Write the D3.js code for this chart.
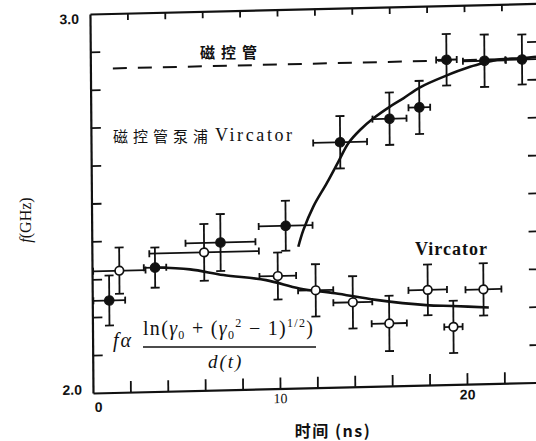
<!DOCTYPE html>
<html><head><meta charset="utf-8">
<script src="https://cdn.jsdelivr.net/npm/d3@7"></script>
<style>body{margin:0;background:#fff}svg{display:block}</style>
</head><body>
<svg id="chart" width="536" height="441"></svg>
<script>
// ---- data ----
// magnetron-pumped vircator (filled circles)
const pumpedT    = [0.91, 3.37, 6.88, 10.37, 13.32, 15.97, 17.57, 19.04, 21.07, 23.08];
const pumpedF    = [2.243, 2.327, 2.389, 2.429, 2.646, 2.705, 2.733, 2.857, 2.852, 2.853];
const pumpedTErr = [0.85, 0.6, 1.87, 1.44, 1.44, 0.91, 0.58, 0.55, 1.15, 0.9];
const pumpedFErr = [0.066, 0.053, 0.075, 0.066, 0.069, 0.069, 0.07, 0.068, 0.069, 0.066];
// plain vircator (open circles)
const vircT    = [1.46, 6.0, 9.93, 11.95, 13.93, 15.87, 17.94, 19.3, 20.92];
const vircF    = [2.321, 2.364, 2.297, 2.257, 2.223, 2.165, 2.251, 2.152, 2.249];
const vircTErr = [1.4, 2.93, 0.98, 0.94, 1.04, 0.94, 1.03, 0.49, 0.96];
const vircFErr = [0.061, 0.075, 0.062, 0.069, 0.069, 0.073, 0.067, 0.069, 0.069];
// theory curves
const theoryVircT = [3.37, 5.24, 7.02, 9.3, 11.08, 12.98, 15.17, 17.85, 19.27, 21.2];
const theoryVircF = [2.327, 2.320, 2.303, 2.287, 2.263, 2.248, 2.228, 2.211, 2.207, 2.201];
const theoryPumpT = [11.04, 11.32, 11.86, 12.59, 13.22, 13.76, 14.39, 15.11, 16.0, 16.72, 17.62, 18.96, 20.3, 21.1, 21.91, 22.98, 23.83];
const theoryPumpF = [2.373, 2.417, 2.478, 2.539, 2.595, 2.643, 2.677, 2.707, 2.737, 2.758, 2.786, 2.814, 2.837, 2.847, 2.855, 2.856, 2.859];
// magnetron level (dashed)
const magnetronLevel = 2.855;
const magnetronSpan = [1.2, 24];
// ticks
const xTickValues = [0, 2, 4, 6, 8, 10, 12, 14, 16, 18, 20, 22];
const xTickLabels = [0, 10, 20];
const yTickValues = [2.0, 2.1, 2.2, 2.3, 2.4, 2.5, 2.6, 2.7, 2.8, 2.9, 3.0];
const yTickLabels = [2.0, 3.0];
const xTitle = "时间 (ns)";
const labelMagnetron = "磁控管";
const labelPumpedCJK = "磁控管泵浦";
const labelPumpedLat = "Vircator";
const labelVirc = "Vircator";

// ---- drawing ----
const svg = d3.select("#chart");
const x = d3.scaleLinear().domain([0, 24]).range([93, 93 + 24 * 18.7]);
const y = d3.scaleLinear().domain([2.0, 3.0]).range([393, 14]);

// slight scan skew of the original figure
const a = 0.008, b = -0.0237;
const g = svg.append("g")
  .attr("transform", `matrix(1,${b},${a},1,${-a * 393},${-b * 93})`);

const ink = "#111";

// axes
const fmtX = d => xTickLabels.includes(d) ? String(d) : "";
const axB = g.append("g").attr("transform", `translate(0,${y(2.0)})`)
  .call(d3.axisBottom(x).tickValues(xTickValues).tickSize(-11).tickSizeOuter(0).tickPadding(9).tickFormat(fmtX));
axB.selectAll(".tick").filter(d => d === 0).select("line").remove();
axB.selectAll("text").attr("font-family", "Liberation Sans, Arial, sans-serif").attr("font-size", 14)
  .attr("font-weight", "bold").attr("fill", ink);
axB.selectAll(".tick").filter(d => d === 0).select("text").attr("dx", 5);
axB.selectAll(".tick").filter(d => d === 10).select("text")
  .attr("font-weight", "normal").attr("font-family", "Liberation Serif, serif").attr("dy", "0.4em");
axB.selectAll(".tick").filter(d => d === 20).select("text").attr("dy", "0.45em");

const axT = g.append("g").attr("transform", `translate(0,${y(3.0)})`)
  .call(d3.axisTop(x).tickValues(xTickValues.filter(d => d > 0)).tickSize(-7).tickSizeOuter(0).tickFormat(""));

const fmtY = d => yTickLabels.some(v => Math.abs(v - d) < 1e-9) ? d.toFixed(1) : "";
const axL = g.append("g").attr("transform", `translate(${x(0)},0)`)
  .call(d3.axisLeft(y).tickValues(yTickValues).tickSize(-10).tickSizeOuter(0).tickPadding(11).tickFormat(fmtY));
axL.selectAll(".tick").filter(d => Math.abs(d - 2) < 1e-9 || Math.abs(d - 3) < 1e-9).select("line").remove();
axL.selectAll("text").attr("font-family", "Liberation Sans, Arial, sans-serif").attr("font-size", 14)
  .attr("font-weight", "bold").attr("fill", ink);
axL.selectAll(".tick").filter(d => Math.abs(d - 3) < 1e-9).select("text").attr("dy", "0.65em");
axL.selectAll(".tick").filter(d => Math.abs(d - 2) < 1e-9).select("text").attr("dy", "0.05em");

const axR = g.append("g").attr("transform", `translate(${x(24)},0)`)
  .call(d3.axisRight(y).tickValues(yTickValues.filter(d => d > 2.05 && d < 2.95)).tickSize(-12).tickSizeOuter(0).tickFormat(""));

[axB, axT, axL, axR].forEach(ax => {
  ax.select(".domain").attr("stroke", ink).attr("stroke-width", 2.2);
  ax.selectAll(".tick line").attr("stroke", ink).attr("stroke-width", 1.8);
});

// magnetron dashed level
g.append("line")
  .attr("x1", x(magnetronSpan[0])).attr("x2", x(magnetronSpan[1]))
  .attr("y1", y(magnetronLevel)).attr("y2", y(magnetronLevel))
  .attr("stroke", ink).attr("stroke-width", 2).attr("stroke-dasharray", "14,11");

// theory curves
const line = d3.line().x(d => x(d[0])).y(d => y(d[1])).curve(d3.curveCatmullRom.alpha(0.5));
g.append("path").attr("d", line(d3.zip(theoryVircT, theoryVircF)))
  .attr("fill", "none").attr("stroke", ink).attr("stroke-width", 2.6);
g.append("path").attr("d", line(d3.zip(theoryPumpT, theoryPumpF)))
  .attr("fill", "none").attr("stroke", ink).attr("stroke-width", 2.6);

// error bars + markers
function series(T, F, TE, FE, filled) {
  const data = T.map((t, i) => ({t, f: F[i], te: TE[i], fe: FE[i]}));
  const s = g.append("g").attr("stroke", ink).attr("stroke-width", 1.8);
  const e = s.selectAll("g").data(data).join("g");
  e.append("line").attr("x1", d => x(d.t)).attr("x2", d => x(d.t))
    .attr("y1", d => y(d.f - d.fe)).attr("y2", d => y(d.f + d.fe));
  e.append("line").attr("x1", d => x(d.t) - 4.5).attr("x2", d => x(d.t) + 4.5)
    .attr("y1", d => y(d.f - d.fe)).attr("y2", d => y(d.f - d.fe));
  e.append("line").attr("x1", d => x(d.t) - 4.5).attr("x2", d => x(d.t) + 4.5)
    .attr("y1", d => y(d.f + d.fe)).attr("y2", d => y(d.f + d.fe));
  e.append("line").attr("x1", d => x(Math.max(0, d.t - d.te))).attr("x2", d => x(d.t + d.te))
    .attr("y1", d => y(d.f)).attr("y2", d => y(d.f));
  e.append("line").attr("x1", d => x(d.t - d.te)).attr("x2", d => x(d.t - d.te))
    .attr("y1", d => y(d.f) - 3.5).attr("y2", d => y(d.f) + 3.5)
    .attr("display", d => d.t - d.te < 0.05 ? "none" : null);
  e.append("line").attr("x1", d => x(d.t + d.te)).attr("x2", d => x(d.t + d.te))
    .attr("y1", d => y(d.f) - 3.5).attr("y2", d => y(d.f) + 3.5);
  e.append("circle").attr("cx", d => x(d.t)).attr("cy", d => y(d.f))
    .attr("r", filled ? 4.8 : 4.3)
    .attr("fill", filled ? ink : "#fff").attr("stroke-width", filled ? 1 : 1.7);
}
series(vircT, vircF, vircTErr, vircFErr, false);
series(pumpedT, pumpedF, pumpedTErr, pumpedFErr, true);

// ---- text ----
const cjk = "'Noto Sans CJK SC', sans-serif";
const serif = "'Liberation Serif', 'DejaVu Serif', serif";

svg.append("text").attr("x", 200).attr("y", 58).text(labelMagnetron)
  .attr("font-family", cjk).attr("font-weight", "bold").attr("font-size", 15)
  .attr("letter-spacing", 6).attr("fill", ink);

const t2 = svg.append("text").attr("x", 113).attr("y", 142).attr("fill", ink);
t2.append("tspan").text(labelPumpedCJK).attr("font-family", cjk).attr("font-size", 15).attr("letter-spacing", 5);
t2.append("tspan").attr("x", 215).attr("dy", -1).text(labelPumpedLat).attr("font-family", serif)
  .attr("font-size", 18).attr("letter-spacing", 2.6);

svg.append("text").attr("x", 415).attr("y", 255).text(labelVirc)
  .attr("font-family", serif).attr("font-weight", "bold").attr("font-size", 18)
  .attr("letter-spacing", 1).attr("fill", ink);

// formula
svg.append("text").attr("x", 113).attr("y", 347).attr("fill", ink)
  .attr("font-family", serif).attr("font-style", "italic").attr("font-size", 20)
  .attr("letter-spacing", 2).text("fα");
const num = svg.append("text").attr("x", 143).attr("y", 335).attr("fill", ink)
  .attr("font-family", serif).attr("font-size", 20).attr("letter-spacing", 1.3);
num.append("tspan").text("ln(");
num.append("tspan").attr("font-style", "italic").text("γ");
num.append("tspan").attr("font-size", 12).attr("dy", 4).text("0");
num.append("tspan").attr("dy", -4).text(" + (");
num.append("tspan").attr("font-style", "italic").text("γ");
num.append("tspan").attr("font-size", 12).attr("dy", 4).text("0");
num.append("tspan").attr("font-size", 12).attr("dy", -12).text("2");
num.append("tspan").attr("dy", 8).text(" − 1)");
num.append("tspan").attr("font-size", 12).attr("dy", -8).text("1/2");
num.append("tspan").attr("dy", 8).text(")");
svg.append("line").attr("x1", 143).attr("x2", 316).attr("y1", 347).attr("y2", 347)
  .attr("stroke", ink).attr("stroke-width", 1.6);
svg.append("text").attr("x", 208).attr("y", 368).attr("fill", ink)
  .attr("font-family", serif).attr("font-style", "italic").attr("font-size", 19)
  .attr("letter-spacing", 2).text("d(t)");

// axis titles
const yt = svg.append("text").attr("transform", "translate(31,220) rotate(-90)")
  .attr("text-anchor", "middle").attr("font-family", serif).attr("font-size", 16).attr("fill", ink);
yt.append("tspan").attr("font-style", "italic").text("f");
yt.append("tspan").text("(GHz)");

svg.append("text").attr("x", 333).attr("y", 437).attr("text-anchor", "middle")
  .attr("font-family", cjk).attr("font-weight", "bold").attr("font-size", 16)
  .attr("letter-spacing", 1.5).attr("fill", ink).text(xTitle);
</script>
</body></html>
